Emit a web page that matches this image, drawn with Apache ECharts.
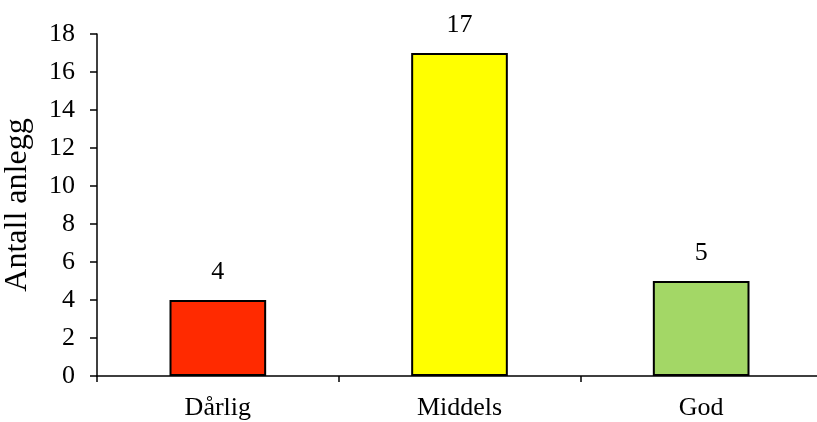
<!DOCTYPE html>
<html>
<head>
<meta charset="utf-8">
<script src="https://cdn.jsdelivr.net/npm/echarts@6/dist/echarts.min.js"></script>
<style>
  html, body { margin: 0; padding: 0; background: #fff; }
  #chart { width: 817px; height: 422px; }
</style>
</head>
<body>
<div id="chart"></div>
<script>
// Number of plants by condition rating
const categories = ['Dårlig', 'Middels', 'God'];
const counts = [4, 17, 5];
const barColors = ['#FF2A00', '#FFFF00', '#A3D766'];
const yTicks = { min: 0, max: 18, step: 2 };

const font = '"Liberation Serif", "Times New Roman", serif';
const chart = echarts.init(document.getElementById('chart'));

chart.setOption({
  animation: false,
  backgroundColor: '#ffffff',
  grid: {
    left: 97, right: -5, top: 34, bottom: 46,
    containLabel: false,
    outerBoundsMode: 'none'
  },
  xAxis: {
    type: 'category',
    data: categories,
    axisLine: { lineStyle: { color: '#000', width: 1.5 } },
    axisTick: { show: true, length: 6, lineStyle: { color: '#000', width: 1.5 } },
    axisLabel: { color: '#000', fontFamily: font, fontSize: 26, margin: 19 }
  },
  yAxis: {
    type: 'value',
    min: yTicks.min,
    max: yTicks.max,
    interval: yTicks.step,
    name: 'Antall anlegg',
    nameLocation: 'middle',
    nameGap: 63,
    nameTextStyle: { color: '#000', fontFamily: font, fontSize: 32 },
    axisLine: { show: true, lineStyle: { color: '#000', width: 1.5 } },
    axisTick: { show: true, length: 7, lineStyle: { color: '#000', width: 1.5 } },
    axisLabel: { color: '#000', fontFamily: font, fontSize: 26, margin: 22 },
    splitLine: { show: false }
  },
  series: [{
    type: 'bar',
    barWidth: '40%',
    data: counts.map((v, i) => ({
      value: v,
      itemStyle: { color: barColors[i], borderColor: '#000', borderWidth: 2 }
    })),
    label: {
      show: true,
      position: 'top',
      distance: 15,
      color: '#000',
      fontFamily: font,
      fontSize: 26
    }
  }]
});
</script>
</body>
</html>
